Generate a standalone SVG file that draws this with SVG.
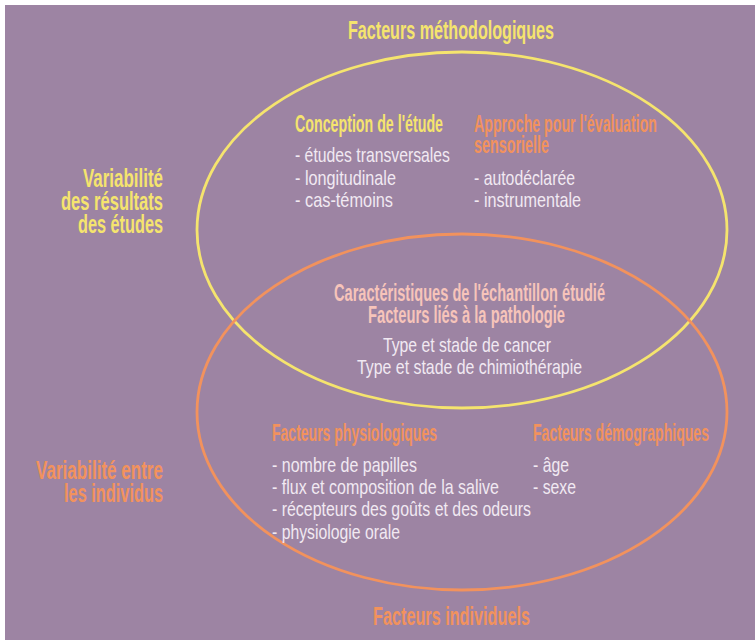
<svg xmlns="http://www.w3.org/2000/svg" width="755" height="640" viewBox="0 0 755 640">
<style>
text{font-family:"Liberation Sans","DejaVu Sans",sans-serif;}
.big{font-size:26px;font-weight:bold;}
.sub{font-size:23px;font-weight:bold;}
.item{font-size:21px;font-weight:normal;fill:#f1e9f2;}
.y{fill:#f5e46e;}
.o{fill:#f2925d;}
.p{fill:#f7c4ba;}
.ring{fill:none;stroke-width:2.8;}
</style>
<rect x="0" y="0" width="755" height="640" fill="#ffffff"/>
<rect x="5" y="5" width="750" height="635" fill="#9d84a3"/>
<g id="ellipse-methodo"><ellipse class="ring" cx="462" cy="230" rx="265" ry="178" stroke="#f5e46e"/></g>
<g id="ellipse-individuels"><ellipse class="ring" cx="462" cy="412" rx="265" ry="178" stroke="#f2925d"/></g>
<g id="title-methodo"><text class="big y" x="348" y="39" textLength="206" lengthAdjust="spacingAndGlyphs">Facteurs méthodologiques</text></g>
<g id="title-individuels"><text class="big o" x="373" y="625" textLength="157" lengthAdjust="spacingAndGlyphs">Facteurs individuels</text></g>
<g id="label-variabilite-etudes">
<text class="big y" x="83" y="187" textLength="80" lengthAdjust="spacingAndGlyphs">Variabilité</text>
<text class="big y" x="61" y="210" textLength="102" lengthAdjust="spacingAndGlyphs">des résultats</text>
<text class="big y" x="78" y="233" textLength="85" lengthAdjust="spacingAndGlyphs">des études</text>
</g>
<g id="label-variabilite-individus">
<text class="big o" x="36" y="479" textLength="127" lengthAdjust="spacingAndGlyphs">Variabilité entre</text>
<text class="big o" x="64" y="502" textLength="99" lengthAdjust="spacingAndGlyphs">les individus</text>
</g>
<g id="conception">
<text class="sub y" x="295" y="132" textLength="148" lengthAdjust="spacingAndGlyphs">Conception de l'étude</text>
<text class="item" x="295" y="162" textLength="155" lengthAdjust="spacingAndGlyphs">- études transversales</text>
<text class="item" x="295" y="185" textLength="101" lengthAdjust="spacingAndGlyphs">- longitudinale</text>
<text class="item" x="295" y="207" textLength="98" lengthAdjust="spacingAndGlyphs">- cas-témoins</text>
</g>
<g id="approche">
<text class="sub o" x="474" y="132" textLength="183" lengthAdjust="spacingAndGlyphs">Approche pour l'évaluation</text>
<text class="sub o" x="474" y="153" textLength="75" lengthAdjust="spacingAndGlyphs">sensorielle</text>
<text class="item" x="474" y="185" textLength="101" lengthAdjust="spacingAndGlyphs">- autodéclarée</text>
<text class="item" x="474" y="207" textLength="107" lengthAdjust="spacingAndGlyphs">- instrumentale</text>
</g>
<g id="echantillon">
<text class="sub p" x="334" y="301" textLength="271" lengthAdjust="spacingAndGlyphs">Caractéristiques de l'échantillon étudié</text>
<text class="sub p" x="368" y="323" textLength="197" lengthAdjust="spacingAndGlyphs">Facteurs liés à la pathologie</text>
<text class="item" x="383" y="352" textLength="168" lengthAdjust="spacingAndGlyphs">Type et stade de cancer</text>
<text class="item" x="357" y="374" textLength="225" lengthAdjust="spacingAndGlyphs">Type et stade de chimiothérapie</text>
</g>
<g id="physiologiques">
<text class="sub o" x="272" y="441" textLength="165" lengthAdjust="spacingAndGlyphs">Facteurs physiologiques</text>
<text class="item" x="272" y="472" textLength="145" lengthAdjust="spacingAndGlyphs">- nombre de papilles</text>
<text class="item" x="272" y="494" textLength="227" lengthAdjust="spacingAndGlyphs">- flux et composition de la salive</text>
<text class="item" x="272" y="516" textLength="259" lengthAdjust="spacingAndGlyphs">- récepteurs des goûts et des odeurs</text>
<text class="item" x="272" y="539" textLength="128" lengthAdjust="spacingAndGlyphs">- physiologie orale</text>
</g>
<g id="demographiques">
<text class="sub o" x="533" y="441" textLength="176" lengthAdjust="spacingAndGlyphs">Facteurs démographiques</text>
<text class="item" x="533" y="472" textLength="36" lengthAdjust="spacingAndGlyphs">- âge</text>
<text class="item" x="533" y="494" textLength="43" lengthAdjust="spacingAndGlyphs">- sexe</text>
</g>
</svg>
